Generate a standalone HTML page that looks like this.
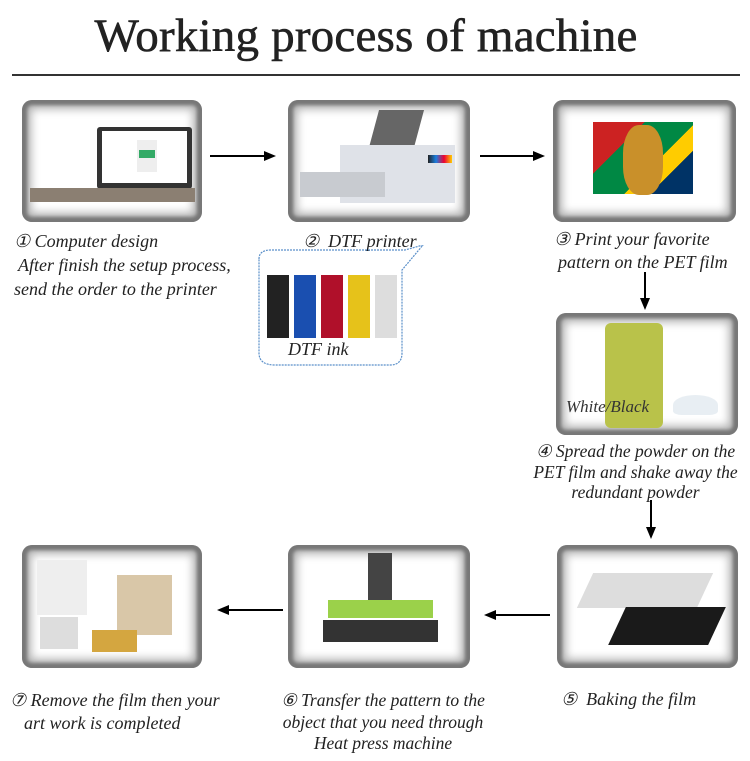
<!DOCTYPE html>
<html><head><meta charset="utf-8"><style>
body{margin:0;width:750px;height:761px;background:#fff;position:relative;overflow:hidden;font-family:"Liberation Serif",serif}
.t{position:absolute;font-style:italic;font-size:18px;color:#222;line-height:23px;white-space:nowrap}
.f{position:absolute;border-radius:10px;background:#fff;box-shadow:inset 0 0 3px 5px #777, inset 0 0 9px 9px #b0b0b0;}
.a{position:absolute;height:2px;background:#000}
.av{position:absolute;width:2px;background:#000}
</style></head><body>
<div style="position:absolute;left:0;width:732px;top:9px;text-align:center;font-size:47px;color:#222;letter-spacing:0.2px;-webkit-text-stroke:0.6px #222">Working process of machine</div>
<div style="position:absolute;left:12px;top:74px;width:728px;height:2px;background:#333"></div>

<div class="f" style="left:22px;top:100px;width:180px;height:122px">
 <div style="position:absolute;left:75px;top:27px;width:95px;height:62px;background:#333;border-radius:3px"></div>
 <div style="position:absolute;left:80px;top:31px;width:85px;height:52px;background:#fff"></div>
 <div style="position:absolute;left:115px;top:40px;width:20px;height:32px;background:#eee"></div>
 <div style="position:absolute;left:117px;top:50px;width:16px;height:8px;background:#3a6"></div>
 <div style="position:absolute;left:8px;top:88px;width:165px;height:14px;background:#8b7f72"></div>
</div>
<div class="f" style="left:288px;top:100px;width:182px;height:122px">
 <div style="position:absolute;left:85px;top:10px;width:45px;height:45px;background:#666;transform:skew(-15deg)"></div>
 <div style="position:absolute;left:52px;top:45px;width:115px;height:58px;background:#dfe2e8"></div>
 <div style="position:absolute;left:12px;top:72px;width:85px;height:25px;background:#c8cbd0"></div>
 <div style="position:absolute;left:140px;top:55px;width:24px;height:8px;background:linear-gradient(90deg,#222,#1a7fe0,#e03,#fc0)"></div>
</div>
<div class="f" style="left:553px;top:100px;width:183px;height:122px">
 <div style="position:absolute;left:40px;top:22px;width:100px;height:72px;background:linear-gradient(135deg,#c22 0 30%,#084 30% 60%,#fc0 60% 75%,#036 75%)"></div>
 <div style="position:absolute;left:70px;top:25px;width:40px;height:70px;background:#c9902a;border-radius:40%"></div>
</div>
<div class="f" style="left:556px;top:313px;width:182px;height:122px">
 <div style="position:absolute;left:49px;top:10px;width:58px;height:105px;background:#b9c24a;border-radius:6px"></div>
 <div style="position:absolute;left:117px;top:82px;width:45px;height:20px;background:#e8eef3;border-radius:50% 50% 20% 20%"></div>
 <div style="position:absolute;left:10px;top:84px;font-style:italic;font-size:17px;color:#333">White/Black</div>
</div>
<div class="f" style="left:557px;top:545px;width:181px;height:123px">
 <div style="position:absolute;left:28px;top:28px;width:120px;height:35px;background:#ddd;transform:skew(-25deg)"></div>
 <div style="position:absolute;left:60px;top:62px;width:100px;height:38px;background:#1a1a1a;transform:skew(-25deg)"></div>
</div>
<div class="f" style="left:288px;top:545px;width:182px;height:123px">
 <div style="position:absolute;left:80px;top:8px;width:24px;height:55px;background:#444"></div>
 <div style="position:absolute;left:40px;top:55px;width:105px;height:18px;background:#9bd14a"></div>
 <div style="position:absolute;left:35px;top:75px;width:115px;height:22px;background:#333"></div>
</div>
<div class="f" style="left:22px;top:545px;width:180px;height:123px">
 <div style="position:absolute;left:15px;top:15px;width:50px;height:55px;background:#eee"></div>
 <div style="position:absolute;left:18px;top:72px;width:38px;height:32px;background:#ddd"></div>
 <div style="position:absolute;left:95px;top:30px;width:55px;height:60px;background:#d9c7a8"></div>
 <div style="position:absolute;left:70px;top:85px;width:45px;height:22px;background:#d4a640"></div>
</div>

<div class="a" style="left:210px;top:155px;width:60px"></div><div style="position:absolute;left:264px;top:151px;border-left:12px solid #000;border-top:5px solid transparent;border-bottom:5px solid transparent"></div>
<div class="a" style="left:480px;top:155px;width:55px"></div><div style="position:absolute;left:533px;top:151px;border-left:12px solid #000;border-top:5px solid transparent;border-bottom:5px solid transparent"></div>
<div class="av" style="left:644px;top:272px;height:30px"></div><div style="position:absolute;left:640px;top:298px;border-top:12px solid #000;border-left:5px solid transparent;border-right:5px solid transparent"></div>
<div class="av" style="left:650px;top:500px;height:30px"></div><div style="position:absolute;left:646px;top:527px;border-top:12px solid #000;border-left:5px solid transparent;border-right:5px solid transparent"></div>
<div class="a" style="left:495px;top:614px;width:55px"></div><div style="position:absolute;left:484px;top:610px;border-right:12px solid #000;border-top:5px solid transparent;border-bottom:5px solid transparent"></div>
<div class="a" style="left:228px;top:609px;width:55px"></div><div style="position:absolute;left:217px;top:605px;border-right:12px solid #000;border-top:5px solid transparent;border-bottom:5px solid transparent"></div>

<div class="t" style="left:14px;top:230px">① Computer design</div>
<div class="t" style="left:18px;top:254px">After finish the setup process,</div>
<div class="t" style="left:14px;top:278px">send the order to the printer</div>
<div class="t" style="left:303px;top:230px">②&nbsp; DTF printer</div>
<svg style="position:absolute;left:255px;top:245px" width="170" height="125"><path d="M4 14 Q4 5 16 5 H150 L168 0 L147 25 V108 Q147 120 135 120 H20 Q4 120 4 108 Z" fill="none" stroke="#5a8fc9" stroke-width="1.2" stroke-dasharray="2 1"/>
<rect x="12" y="30" width="22" height="63" fill="#222"/><rect x="39" y="30" width="22" height="63" fill="#1a4fb0"/><rect x="66" y="30" width="22" height="63" fill="#b0102a"/><rect x="93" y="30" width="22" height="63" fill="#e6c21a"/><rect x="120" y="30" width="22" height="63" fill="#ddd"/></svg>
<div class="t" style="left:288px;top:338px">DTF ink</div>
<div class="t" style="left:554px;top:228px">③ Print your favorite</div>
<div class="t" style="left:558px;top:251px">pattern on the PET film</div>
<div class="t" style="left:518px;top:441px;width:235px;text-align:center;font-size:17.5px;line-height:20.5px">④ Spread the powder on the<br>PET film and shake away the<br>redundant powder</div>
<div class="t" style="left:561px;top:688px">⑤&nbsp; Baking the film</div>
<div class="t" style="left:263px;top:690px;width:240px;text-align:center;font-size:17.5px;line-height:21.5px">⑥ Transfer the pattern to the<br>object that you need through<br>Heat press machine</div>
<div class="t" style="left:10px;top:689px">⑦ Remove the film then your</div>
<div class="t" style="left:24px;top:712px">art work is completed</div>
</body></html>
